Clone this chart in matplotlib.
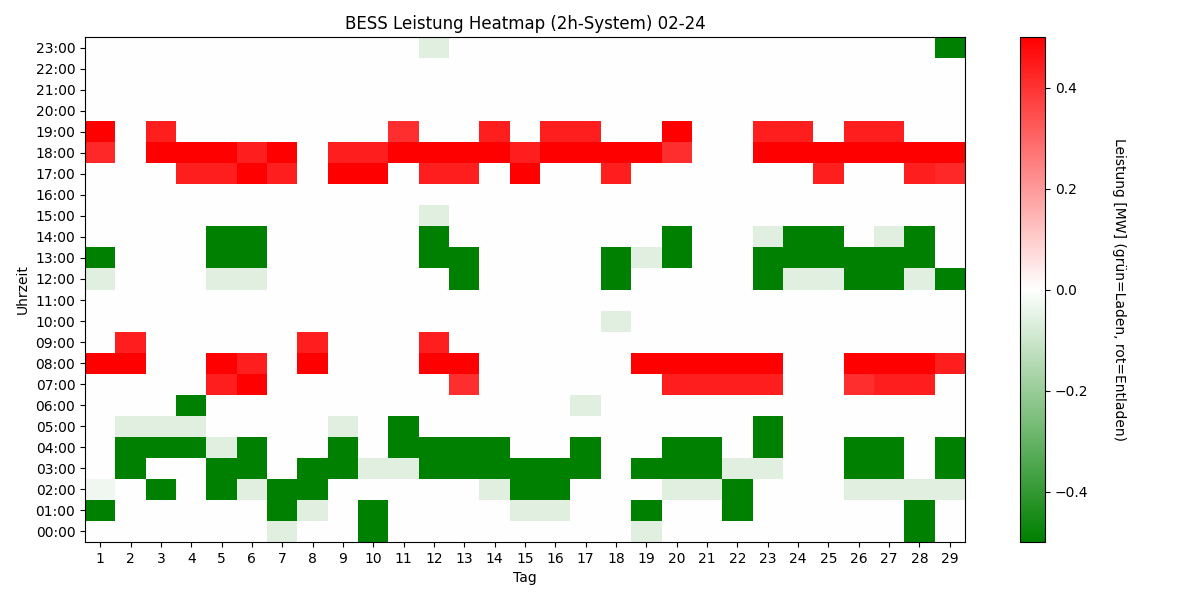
import numpy as np
import matplotlib
matplotlib.use("Agg")
import matplotlib.pyplot as plt
from matplotlib.colors import LinearSegmentedColormap

# Days of month and hours of day
days = list(range(1, 30))
hours = [f"{h:02d}:00" for h in range(24)]

# Power [MW] per hour (rows 00:00..23:00), per day (columns 1..29)
G = -0.5   # full charge
L = -0.06  # light charge
power = [
    # 00:00
    [0, 0, 0, 0, 0, 0, L, 0, 0, G, 0, 0, 0, 0, 0, 0, 0, 0, L, 0, 0, 0, 0, 0, 0, 0, 0, G, 0],
    # 01:00
    [G, 0, 0, 0, 0, 0, G, L, 0, G, 0, 0, 0, 0, L, L, 0, 0, G, 0, 0, G, 0, 0, 0, 0, 0, G, 0],
    # 02:00
    [-0.03, 0, G, 0, G, L, G, G, 0, 0, 0, 0, 0, L, G, G, 0, 0, 0, L, L, G, 0, 0, 0, L, L, L, L],
    # 03:00
    [0, G, 0, 0, G, G, 0, G, G, L, L, G, G, G, G, G, G, 0, G, G, G, L, L, 0, 0, G, G, 0, G],
    # 04:00
    [0, G, G, G, L, G, 0, 0, G, 0, G, G, G, G, 0, 0, G, 0, 0, G, G, 0, G, 0, 0, G, G, 0, G],
    # 05:00
    [0, L, L, L, 0, 0, 0, 0, L, 0, G, 0, 0, 0, 0, 0, 0, 0, 0, 0, 0, 0, G, 0, 0, 0, 0, 0, 0],
    # 06:00
    [0, 0, 0, G, 0, 0, 0, 0, 0, 0, 0, 0, 0, 0, 0, 0, L, 0, 0, 0, 0, 0, 0, 0, 0, 0, 0, 0, 0],
    # 07:00
    [0, 0, 0, 0, 0.44, 0.5, 0, 0, 0, 0, 0, 0, 0.41, 0, 0, 0, 0, 0, 0, 0.44, 0.44, 0.44, 0.44, 0, 0, 0.41, 0.44, 0.44, 0],
    # 08:00
    [0.5, 0.5, 0, 0, 0.5, 0.44, 0, 0.5, 0, 0, 0, 0.5, 0.5, 0, 0, 0, 0, 0, 0.5, 0.5, 0.5, 0.5, 0.5, 0, 0, 0.5, 0.5, 0.5, 0.44],
    # 09:00
    [0, 0.44, 0, 0, 0, 0, 0, 0.44, 0, 0, 0, 0.44, 0, 0, 0, 0, 0, 0, 0, 0, 0, 0, 0, 0, 0, 0, 0, 0, 0],
    # 10:00
    [0, 0, 0, 0, 0, 0, 0, 0, 0, 0, 0, 0, 0, 0, 0, 0, 0, L, 0, 0, 0, 0, 0, 0, 0, 0, 0, 0, 0],
    # 11:00
    [0] * 29,
    # 12:00
    [L, 0, 0, 0, L, L, 0, 0, 0, 0, 0, 0, G, 0, 0, 0, 0, G, 0, 0, 0, 0, G, L, L, G, G, L, G],
    # 13:00
    [G, 0, 0, 0, G, G, 0, 0, 0, 0, 0, G, G, 0, 0, 0, 0, G, L, G, 0, 0, G, G, G, G, G, G, 0],
    # 14:00
    [0, 0, 0, 0, G, G, 0, 0, 0, 0, 0, G, 0, 0, 0, 0, 0, 0, 0, G, 0, 0, L, G, G, 0, L, G, 0],
    # 15:00
    [0, 0, 0, 0, 0, 0, 0, 0, 0, 0, 0, L, 0, 0, 0, 0, 0, 0, 0, 0, 0, 0, 0, 0, 0, 0, 0, 0, 0],
    # 16:00
    [0] * 29,
    # 17:00
    [0, 0, 0, 0.44, 0.44, 0.5, 0.44, 0, 0.5, 0.5, 0, 0.44, 0.44, 0, 0.5, 0, 0, 0.44, 0, 0, 0, 0, 0, 0, 0.44, 0, 0, 0.44, 0.42],
    # 18:00
    [0.42, 0, 0.5, 0.5, 0.5, 0.44, 0.5, 0, 0.44, 0.44, 0.5, 0.5, 0.5, 0.5, 0.44, 0.5, 0.5, 0.5, 0.5, 0.41, 0, 0, 0.5, 0.5, 0.5, 0.5, 0.5, 0.5, 0.5],
    # 19:00
    [0.5, 0, 0.44, 0, 0, 0, 0, 0, 0, 0, 0.41, 0, 0, 0.44, 0, 0.44, 0.44, 0, 0, 0.5, 0, 0, 0.44, 0.44, 0, 0.44, 0.44, 0, 0],
    # 20:00
    [0] * 29,
    # 21:00
    [0] * 29,
    # 22:00
    [0] * 29,
    # 23:00
    [0, 0, 0, 0, 0, 0, 0, 0, 0, 0, 0, L, 0, 0, 0, 0, 0, 0, 0, 0, 0, 0, 0, 0, 0, 0, 0, 0, G],
]


def main():
    data = np.array(power, dtype=float)
    cmap = LinearSegmentedColormap.from_list("laden_entladen", ["green", "white", "red"])

    fig = plt.figure(figsize=(12, 6), dpi=100)
    ax = fig.add_axes([85 / 1200, 58 / 600, 880 / 1200, 505 / 600])
    cax = fig.add_axes([1020 / 1200, 58 / 600, 25 / 1200, 505 / 600])

    im = ax.imshow(data, cmap=cmap, vmin=-0.5, vmax=0.5, aspect="auto",
                   origin="lower", interpolation="nearest")

    ax.set_xticks(range(len(days)))
    ax.set_xticklabels([str(d) for d in days])
    ax.set_yticks(range(len(hours)))
    ax.set_yticklabels(hours)
    ax.set_xlabel("Tag")
    ax.set_ylabel("Uhrzeit")
    ax.set_title("BESS Leistung Heatmap (2h-System) 02-24")

    cbar = fig.colorbar(im, cax=cax)
    cbar.set_label("Leistung [MW] (grün=Laden, rot=Entladen)", rotation=270, labelpad=27)

    fig.savefig("out.png", dpi=100)


if __name__ == "__main__":
    main()
